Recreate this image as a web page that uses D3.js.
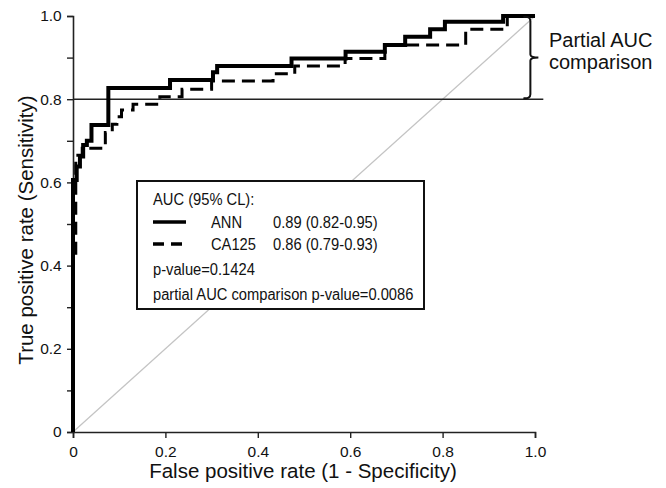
<!DOCTYPE html>
<html>
<head>
<meta charset="utf-8">
<script src="https://cdn.jsdelivr.net/npm/d3@7"></script>
<style>
body { margin: 0; background: #fff; }
svg text { font-family: "Liberation Sans", Arial, sans-serif; fill: #111; }
</style>
</head>
<body>
<svg id="chart" width="666" height="488"></svg>
<script>
// ROC steps, stored as [fpr, tpr] at the start of each horizontal level
var annSteps = [
  [0, 0], [0, 0.606], [0.008, 0.638], [0.015, 0.662], [0.022, 0.69], [0.03, 0.70],
  [0.04, 0.738], [0.0765, 0.827], [0.21, 0.846], [0.303, 0.865], [0.312, 0.88],
  [0.473, 0.898], [0.59, 0.914], [0.675, 0.93], [0.719, 0.95], [0.773, 0.968],
  [0.805, 0.986], [0.931, 1.0], [1.0, 1.0]
];
var ca125Steps = [
  [0, 0], [0, 0.42], [0.006, 0.665], [0.02, 0.682], [0.07, 0.72], [0.085, 0.74],
  [0.095, 0.758], [0.105, 0.774], [0.13, 0.788], [0.188, 0.806], [0.236, 0.824],
  [0.30, 0.844], [0.433, 0.861], [0.48, 0.88], [0.589, 0.898], [0.675, 0.93],
  [0.85, 0.968], [0.94, 1.0], [1.0, 1.0]
];
var xTicks = [0, 0.2, 0.4, 0.6, 0.8, 1.0];
var xTickLabels = ["0", "0.2", "0.4", "0.6", "0.8", "1.0"];
var yTicks = [0, 0.1, 0.2, 0.3, 0.4, 0.5, 0.6, 0.7, 0.8, 0.9, 1.0];
var yTickLabels = {0: "0", 0.2: "0.2", 0.4: "0.4", 0.6: "0.6", 0.8: "0.8", 1: "1.0"};
var cutoff = 0.8;
var legendRows = [
  {name: "ANN", auc: "0.89 (0.82-0.95)", dash: null},
  {name: "CA125", auc: "0.86 (0.79-0.93)", dash: "11,7"}
];

var svg = d3.select("#chart");
var x = d3.scaleLinear().domain([0, 1]).range([73, 535]);
var y = d3.scaleLinear().domain([0, 1]).range([432, 16]);

// diagonal chance line
svg.append("line")
  .attr("x1", x(0)).attr("y1", y(0)).attr("x2", x(1)).attr("y2", y(1))
  .attr("stroke", "#c4c4c4").attr("stroke-width", 1.3);

// axes
var xAxis = d3.axisBottom(x).tickValues(xTicks).tickSize(6)
  .tickFormat(function(d, i) { return xTickLabels[i]; });
var gx = svg.append("g").attr("transform", "translate(0," + y(0) + ")").call(xAxis);
var yAxis = d3.axisLeft(y).tickValues(yTicks).tickSize(6)
  .tickFormat(function(d) { var k = Math.round(d * 10) / 10; return yTickLabels[k] || ""; });
var gy = svg.append("g").attr("transform", "translate(" + x(0) + ",0)").call(yAxis);
[gx, gy].forEach(function(g) {
  g.select(".domain").attr("stroke", "#222").attr("stroke-width", 1.6);
  g.selectAll(".tick line").attr("stroke", "#222").attr("stroke-width", 1.4);
  g.selectAll("text").style("font-size", "15.5px").attr("fill", "#111");
});
gx.selectAll("text").attr("dy", "1.05em");
gy.selectAll("text").attr("dx", "-0.15em");

// axis titles
svg.append("text").attr("x", x(0.5) - 1).attr("y", 478).attr("text-anchor", "middle")
  .style("font-size", "20.5px").text("False positive rate (1 - Specificity)");
svg.append("text").attr("transform", "translate(33," + (y(0.5) + 6) + ") rotate(-90)")
  .attr("text-anchor", "middle").style("font-size", "20.5px")
  .text("True positive rate (Sensitivity)");

// cutoff line at 0.8
svg.append("line")
  .attr("x1", x(0)).attr("x2", x(1.018)).attr("y1", y(cutoff)).attr("y2", y(cutoff))
  .attr("stroke", "#222").attr("stroke-width", 1.6);

// ROC curves
var line = d3.line().x(function(d) { return x(d[0]); }).y(function(d) { return y(d[1]); })
  .curve(d3.curveStepAfter);
svg.append("path").datum(ca125Steps).attr("d", line)
  .attr("fill", "none").attr("stroke", "#000").attr("stroke-width", 3)
  .attr("stroke-dasharray", "13,7");
svg.append("path").datum(annSteps).attr("d", line)
  .attr("fill", "none").attr("stroke", "#000").attr("stroke-width", 4);

// brace marking the partial AUC region
var bx = x(0.99), bt = y(1.0), bb = y(cutoff), bm = (bt + bb) / 2;
var brace = d3.path();
brace.moveTo(bx - 7, bt + 1);
brace.quadraticCurveTo(bx, bt, bx, bt + 5);
brace.lineTo(bx, bm - 3);
brace.quadraticCurveTo(bx, bm, bx + 8, bm);
brace.quadraticCurveTo(bx, bm, bx, bm + 3);
brace.lineTo(bx, bb - 5);
brace.quadraticCurveTo(bx, bb, bx - 7, bb - 1);
svg.append("path").attr("d", brace.toString()).attr("fill", "none")
  .attr("stroke", "#111").attr("stroke-width", 2);
svg.append("text").attr("x", 549).attr("y", 47).style("font-size", "20px").text("Partial AUC");
svg.append("text").attr("x", 549).attr("y", 69).style("font-size", "20px").text("comparison");

// legend box; text is a little condensed like the original
var lg = svg.append("g");
lg.append("rect").attr("x", 137).attr("y", 181).attr("width", 287).attr("height", 128)
  .attr("fill", "#fff").attr("stroke", "#111").attr("stroke-width", 2);
function legendText(tx, ty, s) {
  lg.append("text").attr("transform", "translate(" + tx + "," + ty + ") scale(0.92,1)")
    .style("font-size", "16px").text(s);
}
legendText(153, 205, "AUC (95% CL):");
legendRows.forEach(function(r, i) {
  var ty = 228 + i * 22;
  lg.append("line").attr("x1", 153).attr("x2", 186).attr("y1", ty - 6).attr("y2", ty - 6)
    .attr("stroke", "#000").attr("stroke-width", 3.5)
    .attr("stroke-dasharray", r.dash);
  legendText(211, ty, r.name);
  legendText(273, ty, r.auc);
});
legendText(153, 275, "p-value=0.1424");
legendText(153, 300, "partial AUC comparison p-value=0.0086");
</script>
</body>
</html>
